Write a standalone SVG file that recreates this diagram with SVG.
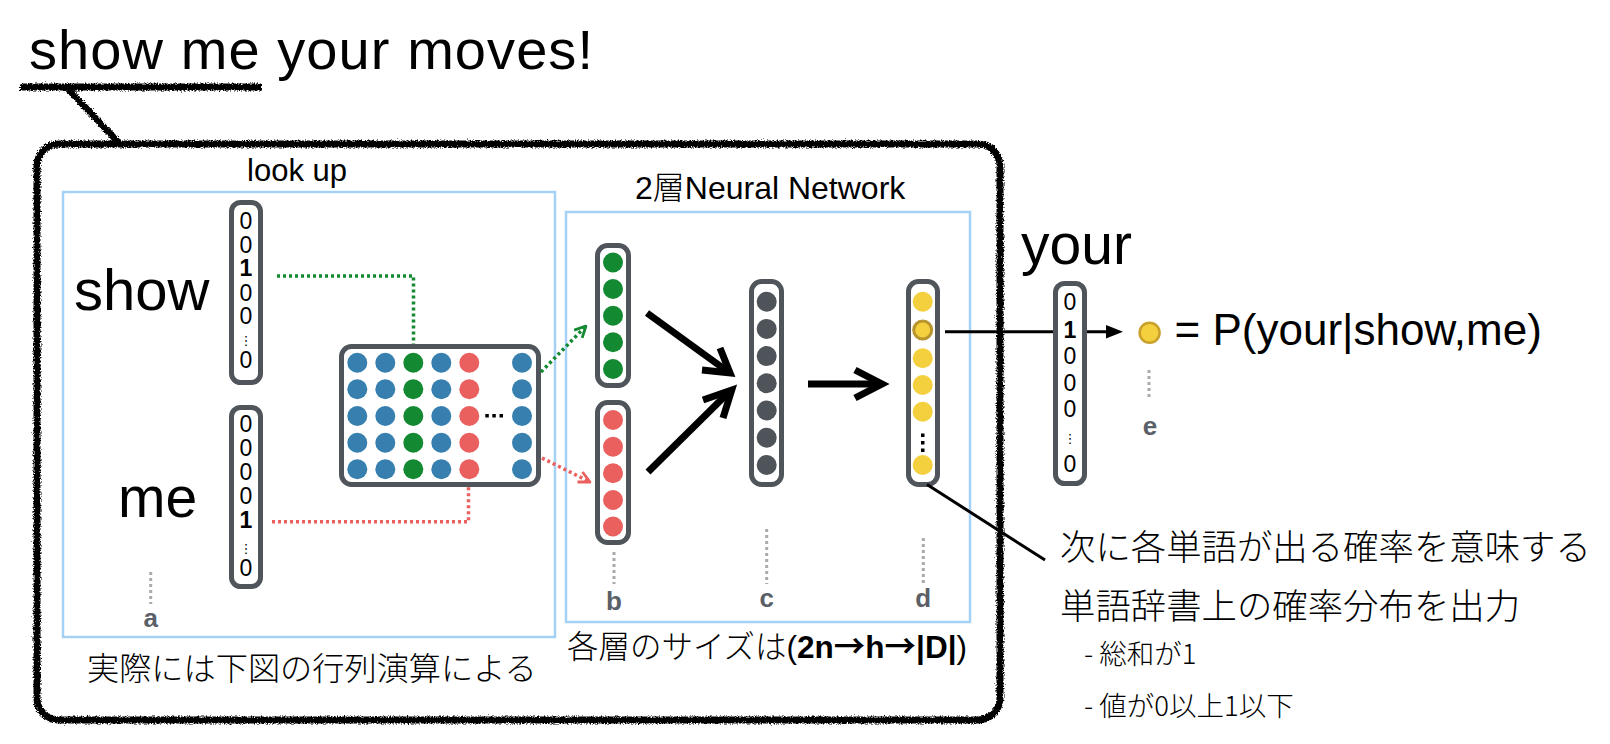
<svg xmlns="http://www.w3.org/2000/svg" width="1610" height="744" viewBox="0 0 1610 744">
<defs>
<style>
.t{font-family:'Liberation Sans',Arial,sans-serif;fill:#000}
.j{font-family:'Liberation Sans','Noto Sans CJK JP',sans-serif;fill:#000;font-weight:300}
.jj{font-family:'Noto Sans CJK JP',sans-serif;fill:#000;font-weight:300}
.cjk{font-family:'Noto Sans CJK JP',sans-serif}
.vec{fill:#fff;stroke:#50555b;stroke-width:5}
.blue{fill:#367fae}.green{fill:#138a31}.red{fill:#e9605e}.gray{fill:#4f545a}.yel{fill:#f4d03f}
.dig{font-family:'Liberation Sans',Arial,sans-serif;font-size:23px;text-anchor:middle;fill:#000}
.b1{font-weight:bold}
.vd{font-family:'DejaVu Sans',sans-serif;font-size:13px;text-anchor:middle;fill:#000}
.lbl{font-family:'Liberation Sans',Arial,sans-serif;font-weight:bold;font-size:26px;text-anchor:middle;fill:#5b6068}
.gd{stroke:#aaa;stroke-width:3;stroke-dasharray:3 3;fill:none}
.blk{stroke:#000;stroke-width:7;fill:none;stroke-linejoin:miter;stroke-linecap:butt}
.panel{fill:none;stroke:#a6d1f7;stroke-width:2.5}
</style>
<filter id="rough" x="-3%" y="-3%" width="106%" height="106%">
<feTurbulence type="fractalNoise" baseFrequency="0.7" numOctaves="3" seed="4"/>
<feDisplacementMap in="SourceGraphic" scale="5" xChannelSelector="R" yChannelSelector="G"/>
</filter>
<filter id="rough2" x="-10%" y="-40%" width="120%" height="180%">
<feTurbulence type="fractalNoise" baseFrequency="0.7" numOctaves="3" seed="7"/>
<feDisplacementMap in="SourceGraphic" scale="5" xChannelSelector="R" yChannelSelector="G"/>
</filter>
<marker id="gArr" viewBox="0 0 10 10" refX="9" refY="5" markerWidth="4" markerHeight="4" orient="auto" markerUnits="strokeWidth">
<path d="M1,1 L9,5 L1,9" fill="none" stroke="#138a31" stroke-width="2"/>
</marker>
<marker id="rArr" viewBox="0 0 10 10" refX="9" refY="5" markerWidth="4" markerHeight="4" orient="auto" markerUnits="strokeWidth">
<path d="M1,1 L9,5 L1,9" fill="none" stroke="#e9605e" stroke-width="2"/>
</marker>
</defs>
<rect width="1610" height="744" fill="#fff"/>

<g id="title">
<text class="t" x="29" y="69" font-size="56" textLength="564" lengthAdjust="spacing">show me your moves!</text>
<g filter="url(#rough2)">
<path d="M20,87 L262,87" stroke="#000" stroke-width="7" fill="none"/>
<path d="M68,89 L119,143" stroke="#000" stroke-width="6.5" fill="none"/>
</g>
</g>

<g id="frame" filter="url(#rough)">
<rect x="37" y="144" width="963" height="576" rx="22" fill="none" stroke="#000" stroke-width="7"/>
</g>

<g id="lookup-panel">
<rect class="panel" x="63" y="192" width="492" height="445"/>
<text class="t" x="297" y="181" font-size="31" text-anchor="middle">look up</text>
<text class="j" x="87" y="680" font-size="32.2">実際には下図の行列演算による</text>
</g>

<g id="nn-panel">
<rect class="panel" x="566" y="212" width="404" height="410"/>
<text class="j" x="635" y="199" font-size="32">2層Neural Network</text>
<text class="j" x="567" y="658" font-size="31.5">各層のサイズは(<tspan font-weight="bold">2n</tspan><tspan class="cjk" font-weight="bold">→</tspan><tspan font-weight="bold">h</tspan><tspan class="cjk" font-weight="bold">→</tspan><tspan font-weight="bold">|D|</tspan>)</text>
</g>

<g id="word-show">
<text class="t" x="74" y="310" font-size="58">show</text>
<rect class="vec" x="231.5" y="202.5" width="29" height="180" rx="9"/>
<text class="dig" x="246" y="229">0</text>
<text class="dig" x="246" y="253">0</text>
<text class="dig b1" x="246" y="276">1</text>
<text class="dig" x="246" y="300.5">0</text>
<text class="dig" x="246" y="324">0</text>
<text class="vd" x="246" y="345">⋮</text>
<text class="dig" x="246" y="368">0</text>
</g>

<g id="word-me">
<text class="t" x="118" y="517" font-size="57">me</text>
<rect class="vec" x="231.5" y="407.5" width="29" height="179" rx="9"/>
<text class="dig" x="246" y="432">0</text>
<text class="dig" x="246" y="456">0</text>
<text class="dig" x="246" y="480">0</text>
<text class="dig" x="246" y="504">0</text>
<text class="dig b1" x="246" y="528">1</text>
<text class="vd" x="246" y="553">⋮</text>
<text class="dig" x="246" y="576">0</text>
</g>

<g id="matrix">
<rect class="vec" x="341.5" y="346.5" width="197" height="138" rx="10"/>
<g class="blue">
<circle cx="357.3" cy="362.7" r="10"/><circle cx="357.3" cy="389.3" r="10"/><circle cx="357.3" cy="416" r="10"/><circle cx="357.3" cy="442.7" r="10"/><circle cx="357.3" cy="469.3" r="10"/>
<circle cx="385.3" cy="362.7" r="10"/><circle cx="385.3" cy="389.3" r="10"/><circle cx="385.3" cy="416" r="10"/><circle cx="385.3" cy="442.7" r="10"/><circle cx="385.3" cy="469.3" r="10"/>
<circle cx="441.3" cy="362.7" r="10"/><circle cx="441.3" cy="389.3" r="10"/><circle cx="441.3" cy="416" r="10"/><circle cx="441.3" cy="442.7" r="10"/><circle cx="441.3" cy="469.3" r="10"/>
<circle cx="522" cy="362.7" r="10"/><circle cx="522" cy="389.3" r="10"/><circle cx="522" cy="416" r="10"/><circle cx="522" cy="442.7" r="10"/><circle cx="522" cy="469.3" r="10"/>
</g>
<g class="green">
<circle cx="413.3" cy="362.7" r="10"/><circle cx="413.3" cy="389.3" r="10"/><circle cx="413.3" cy="416" r="10"/><circle cx="413.3" cy="442.7" r="10"/><circle cx="413.3" cy="469.3" r="10"/>
</g>
<g class="red">
<circle cx="469.3" cy="362.7" r="10"/><circle cx="469.3" cy="389.3" r="10"/><circle cx="469.3" cy="416" r="10"/><circle cx="469.3" cy="442.7" r="10"/><circle cx="469.3" cy="469.3" r="10"/>
</g>
<g fill="#000">
<rect x="485.3" y="414" width="3.5" height="3.5"/><rect x="492.3" y="414" width="3.5" height="3.5"/><rect x="499.5" y="414" width="3.5" height="3.5"/>
</g>
</g>

<g id="layer-b">
<rect class="vec" x="597.5" y="245.5" width="31" height="140" rx="10"/>
<g class="green">
<circle cx="613" cy="262.5" r="10"/><circle cx="613" cy="289" r="10"/><circle cx="613" cy="315.7" r="10"/><circle cx="613" cy="342.3" r="10"/><circle cx="613" cy="369" r="10"/>
</g>
<rect class="vec" x="597.5" y="402.5" width="31" height="140" rx="10"/>
<g class="red">
<circle cx="613" cy="420" r="10"/><circle cx="613" cy="446.7" r="10"/><circle cx="613" cy="473.3" r="10"/><circle cx="613" cy="500" r="10"/><circle cx="613" cy="526.5" r="10"/>
</g>
</g>

<g id="layer-c">
<rect class="vec" x="751.5" y="281.5" width="30" height="203" rx="10"/>
<g class="gray">
<circle cx="766.7" cy="301.7" r="10"/><circle cx="766.7" cy="328.9" r="10"/><circle cx="766.7" cy="356.1" r="10"/><circle cx="766.7" cy="383.3" r="10"/><circle cx="766.7" cy="410.5" r="10"/><circle cx="766.7" cy="437.7" r="10"/><circle cx="766.7" cy="465" r="10"/>
</g>
</g>

<g id="layer-d">
<rect class="vec" x="908.5" y="281.5" width="29" height="203" rx="10"/>
<g class="yel">
<circle cx="922.7" cy="301.7" r="10"/><circle cx="922.7" cy="358.3" r="10"/><circle cx="922.7" cy="385" r="10"/><circle cx="922.7" cy="411.7" r="10"/><circle cx="922.7" cy="465" r="10"/>
</g>
<circle cx="922.7" cy="330" r="9" fill="#f4d03f" stroke="#b8952e" stroke-width="3"/>
<g fill="#000">
<rect x="921" y="433.5" width="3.5" height="3.5"/><rect x="921" y="441" width="3.5" height="3.5"/><rect x="921" y="448.5" width="3.5" height="3.5"/>
</g>
</g>

<g id="connectors">
<path d="M277,276 H413.5 V344" fill="none" stroke="#138a31" stroke-width="3.5" stroke-dasharray="3 3"/>
<path d="M272,521.7 H468.5 V487" fill="none" stroke="#e9605e" stroke-width="3.5" stroke-dasharray="3 3"/>
<path d="M541,372 L586,326" fill="none" stroke="#138a31" stroke-width="3.5" stroke-dasharray="3 3" marker-end="url(#gArr)"/>
<path d="M542,458 L590,482" fill="none" stroke="#e9605e" stroke-width="3.5" stroke-dasharray="3 3" marker-end="url(#rArr)"/>
<path class="blk" d="M647,313 L727,371"/>
<path class="blk" d="M702,370 L730,373 L720,348"/>
<path class="blk" d="M648,472 L729,392"/>
<path class="blk" d="M703,400 L731.7,390 L723,418"/>
<path class="blk" d="M808,384 L879,384"/>
<path class="blk" d="M855,370 L882,384 L855,398"/>
<path d="M945,331.7 H1108" stroke="#000" stroke-width="3" fill="none"/>
<path d="M1106,325 L1123,331.7 L1106,338.5 Z" fill="#000"/>
<path d="M927,484.5 L1045,560" stroke="#000" stroke-width="3" fill="none"/>
<path class="gd" d="M150.7,572 V604"/>
<path class="gd" d="M614,552 V584"/>
<path class="gd" d="M766.7,529 V584"/>
<path class="gd" d="M923.3,538 V584"/>
<path class="gd" d="M1149,370 V400"/>
</g>

<g id="labels">
<text class="lbl" x="150.7" y="627">a</text>
<text class="lbl" x="614" y="610">b</text>
<text class="lbl" x="766.7" y="607">c</text>
<text class="lbl" x="923.3" y="607">d</text>
<text class="lbl" x="1150" y="435">e</text>
</g>

<g id="word-your">
<text class="t" x="1021" y="264" font-size="57">your</text>
<rect class="vec" x="1055.5" y="283.5" width="29" height="200" rx="9" stroke-width="4.5"/>
<text class="dig" x="1070" y="310" font-size="22">0</text>
<text class="dig b1" x="1070" y="337.7" font-size="22">1</text>
<text class="dig" x="1070" y="364" font-size="22">0</text>
<text class="dig" x="1070" y="390.7" font-size="22">0</text>
<text class="dig" x="1070" y="417.3" font-size="22">0</text>
<text class="vd" x="1070" y="443">⋮</text>
<text class="dig" x="1070" y="471.7" font-size="22">0</text>
</g>

<g id="probability">
<circle cx="1149.6" cy="332.7" r="10" fill="#f4d03f" stroke="#c9a02c" stroke-width="2.5"/>
<text class="t" x="1174.6" y="345" font-size="44">= P(your|show,me)</text>
</g>

<g id="note">
<text class="j" x="1060" y="560" font-size="35.4">次に各単語が出る確率を意味する</text>
<text class="j" x="1060" y="619" font-size="35.4">単語辞書上の確率分布を出力</text>
<text class="jj" x="1084" y="664" font-size="27.5">- 総和が1</text>
<text class="jj" x="1084" y="716" font-size="27.5">- 値が0以上1以下</text>
</g>
</svg>
